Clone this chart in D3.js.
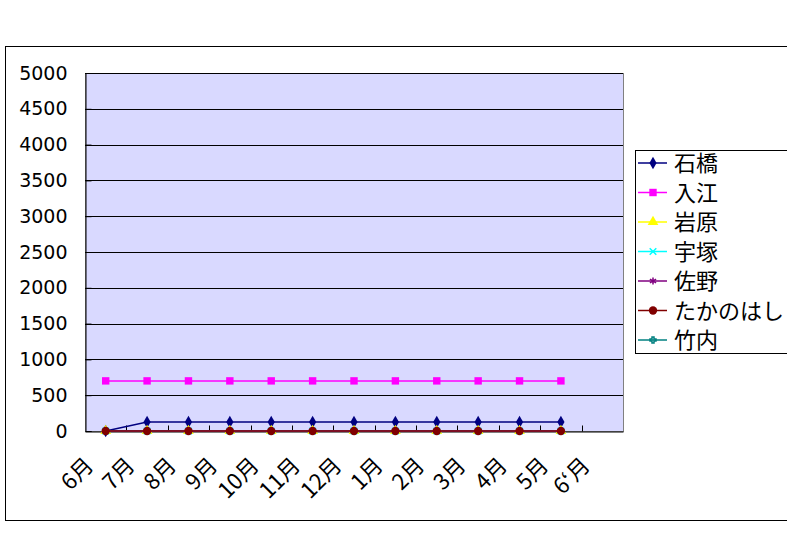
<!DOCTYPE html>
<html>
<head>
<meta charset="utf-8">
<script src="https://cdn.jsdelivr.net/npm/d3@7"></script>
<style>
  body { margin: 0; background: #fff; }
  svg text { fill: #000; }
</style>
</head>
<body>
<div id="chart"></div>
<script>
// data
var months = ["6月", "7月", "8月", "9月", "10月", "11月", "12月", "1月", "2月", "3月", "4月", "5月", "6‘月"];
var yTicks = [0, 500, 1000, 1500, 2000, 2500, 3000, 3500, 4000, 4500, 5000];

var ishibashi = [0, 125, 125, 125, 125, 125, 125, 125, 125, 125, 125, 125, null];
var irie = [700, 700, 700, 700, 700, 700, 700, 700, 700, 700, 700, 700, null];
var iwahara = [0, 0, 0, 0, 0, 0, 0, 0, 0, 0, 0, 0, null];
var uzuka = [0, 0, 0, 0, 0, 0, 0, 0, 0, 0, 0, 0, null];
var sano = [0, 0, 0, 0, 0, 0, 0, 0, 0, 0, 0, 0, null];
var takanohashi = [0, 0, 0, 0, 0, 0, 0, 0, 0, 0, 0, 0, null];
var takeuchi = [null, null, null, null, null, null, null, null, null, null, null, null, null];

var series = [
    {name: "石橋", values: ishibashi, color: "#000080", marker: "diamond"},
    {name: "入江", values: irie, color: "#ff00ff", marker: "square"},
    {name: "岩原", values: iwahara, color: "#ffff00", marker: "triangle"},
    {name: "宇塚", values: uzuka, color: "#00ffff", marker: "x"},
    {name: "佐野", values: sano, color: "#800080", marker: "star"},
    {name: "たかのはし", values: takanohashi, color: "#800000", marker: "circle"},
    {name: "竹内", values: takeuchi, color: "#008080", marker: "plus"}
];

//setup
var W = 787, H = 551;
var plot = {left: 85, top: 73, right: 623, bottom: 431};

const svg = d3.select("#chart").append("svg")
    .attr("width", W)
    .attr("height", H);

// outer frame
svg.append("rect")
    .attr("x", 5.5).attr("y", 46.5)
    .attr("width", 800).attr("height", 474)
    .attr("fill", "#fff").attr("stroke", "#000");

const x = d3.scaleBand().domain(months).range([plot.left, plot.right]);
const y = d3.scaleLinear().domain([0, 5000]).range([plot.bottom, plot.top]);

// plot area
svg.append("rect")
    .attr("x", plot.left + 0.5).attr("y", plot.top + 0.5)
    .attr("width", plot.right - plot.left).attr("height", plot.bottom - plot.top)
    .attr("fill", "#d9d9ff").attr("stroke", "#808080");

// gridlines
svg.append("g").selectAll("line")
    .data(yTicks.filter(d => d > 0))
    .enter().append("line")
    .attr("x1", plot.left).attr("x2", plot.right)
    .attr("y1", d => Math.round(y(d)) + 0.5).attr("y2", d => Math.round(y(d)) + 0.5)
    .attr("stroke", "#000");

// y axis
const yAxis = d3.axisRight(y).tickValues(yTicks).tickSize(6).tickFormat(d3.format("d"));
const gy = svg.append("g")
    .attr("transform", "translate(" + (plot.left + 0.5) + ",0)")
    .call(yAxis);
gy.selectAll("text")
    .attr("x", -18).attr("text-anchor", "end")
    .style("font-family", "'DejaVu Sans', sans-serif")
    .style("font-size", "19px");
gy.selectAll(".tick line").attr("stroke", "#000");
gy.select(".domain").attr("stroke", "#000");

// x axis
const xAxis = d3.axisTop(x).tickSize(0).tickFormat("");
const gx = svg.append("g")
    .attr("transform", "translate(0," + (plot.bottom + 0.5) + ")")
    .call(xAxis);
gx.select(".domain").attr("stroke", "#000");
gx.selectAll(".tick").remove();
gx.selectAll(".cat-tick")
    .data(months.slice(1))
    .enter().append("line")
    .attr("x1", d => Math.round(x(d)) + 0.5).attr("x2", d => Math.round(x(d)) + 0.5)
    .attr("y1", 0).attr("y2", -6)
    .attr("stroke", "#000");

svg.append("g").selectAll("text")
    .data(months)
    .enter().append("text")
    .attr("text-anchor", "end")
    .attr("transform", d => "translate(" + (x(d) + x.bandwidth() / 2 - 11) + "," + (plot.bottom + 36) + ") rotate(-45)")
    .style("font-family", "'Noto Sans CJK JP', sans-serif")
    .style("font-size", "22px")
    .text(d => d);

// lines and markers
function markerPath(type) {
    var sym = {
        diamond: d3.symbolDiamond, square: d3.symbolSquare, triangle: d3.symbolTriangle,
        x: d3.symbolX, star: d3.symbolAsterisk, circle: d3.symbolCircle, plus: d3.symbolCross
    }[type];
    var size = {diamond: 45, square: 55, triangle: 50, x: 30, star: 35, circle: 55, plus: 20}[type];
    return d3.symbol().type(sym).size(size)();
}

const line = d3.line()
    .defined(d => d != null)
    .x((d, i) => x(months[i]) + x.bandwidth() / 2)
    .y(d => y(d));

series.forEach(function(s) {
    var g = svg.append("g");
    g.append("path")
        .attr("d", line(s.values))
        .attr("fill", "none")
        .attr("stroke", s.color)
        .attr("stroke-width", 1.5);
    var stroked = (s.marker == "x" || s.marker == "star" || s.marker == "plus");
    g.selectAll("path.m")
        .data(s.values.map((v, i) => ({v: v, i: i})).filter(d => d.v != null))
        .enter().append("path")
        .attr("class", "m")
        .attr("d", markerPath(s.marker))
        .attr("transform", d => "translate(" + (x(months[d.i]) + x.bandwidth() / 2) + "," + y(d.v) + ")")
        .attr("fill", stroked ? "none" : s.color)
        .attr("stroke", s.color)
        .attr("stroke-width", stroked ? 1.5 : 0);
});

// legend
const lg = svg.append("g").attr("transform", "translate(635,150)");
lg.append("rect")
    .attr("x", 0.5).attr("y", 0.5)
    .attr("width", 200).attr("height", 203)
    .attr("fill", "#fff").attr("stroke", "#000");
series.forEach(function(s, i) {
    var cy = 13 + i * 29.5;
    var stroked = (s.marker == "x" || s.marker == "star" || s.marker == "plus");
    lg.append("line")
        .attr("x1", 3).attr("x2", 32)
        .attr("y1", cy).attr("y2", cy)
        .attr("stroke", s.color).attr("stroke-width", 1.5);
    lg.append("path")
        .attr("d", markerPath(s.marker))
        .attr("transform", "translate(18," + cy + ")")
        .attr("fill", stroked ? "none" : s.color)
        .attr("stroke", s.color)
        .attr("stroke-width", stroked ? 1.5 : 0);
    lg.append("text")
        .attr("x", 39).attr("y", cy + 8)
        .style("font-family", "'Noto Sans CJK JP', sans-serif")
        .style("font-size", "22px")
        .text(s.name);
});
</script>
</body>
</html>
